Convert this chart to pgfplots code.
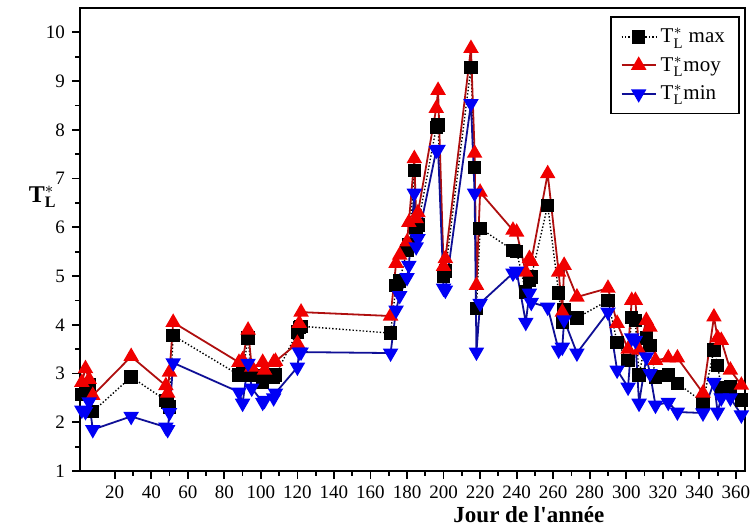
\documentclass[border=0pt]{standalone}
\usepackage{pgfplots}
\usepackage{pgfplotstable}
\pgfplotsset{compat=1.18}
\usepackage{fontspec}
\setmainfont{Liberation Serif}[Ligatures=TeXOff]
\definecolor{redfill}{RGB}{240,0,0}
\definecolor{redline}{RGB}{175,15,15}
\definecolor{bluefill}{RGB}{0,0,245}
\definecolor{blueline}{RGB}{15,15,150}
\pgfplotstableread{
day max moy min
2 2.57 2.82 2.25
4 2.60 3.10 2.22
6 2.78 2.88 2.42
8 2.22 2.55 1.85
29 2.93 3.35 2.12
48 2.45 2.75 1.90
49 2.40 2.60 1.85
50 2.31 3.03 2.20
52 3.78 4.05 3.22
88 2.97 3.23 2.62
90 3.00 3.28 2.39
93 3.73 3.89 3.21
95 2.97 3.13 2.70
101 2.82 3.23 2.41
102 2.95 3.07 2.45
107 2.93 3.23 2.50
108 2.97 3.25 2.60
120 3.85 3.62 3.13
121 3.95 4.03 3.44
122 3.97 4.26 3.44
171 3.83 4.18 3.42
174 4.80 5.26 4.30
176 4.90 5.43 4.60
180 5.53 5.70 4.97
181 5.65 6.10 5.22
184 7.17 7.41 6.70
185 6.00 6.18 5.60
186 6.05 6.30 5.77
196 8.05 8.44 7.58
197 8.10 8.81 7.60
200 5.00 5.20 4.75
201 5.10 5.36 4.71
215 9.28 9.67 8.54
217 7.23 7.52 6.70
218 4.34 4.81 3.44
220 5.98 6.72 4.44
238 5.53 5.94 5.06
240 5.50 5.90 5.10
245 4.67 5.08 4.05
247 4.91 5.36 4.65
248 4.98 5.30 4.46
257 6.45 7.10 4.36
263 4.65 5.08 3.48
265 4.05 4.26 3.54
266 4.30 5.22 4.10
273 4.14 4.57 3.42
290 4.50 4.75 4.26
295 3.64 4.03 3.07
301 3.27 3.50 2.72
303 4.15 4.50 3.73
305 4.09 4.50 3.68
307 2.97 3.48 2.39
311 3.73 4.09 3.34
313 3.58 3.95 3.00
316 2.93 3.27 2.35
323 2.97 3.32 2.41
328 2.80 3.32 2.21
342 2.41 2.60 2.19
348 3.48 4.16 2.82
350 3.17 3.73 2.21
352 2.70 3.68 2.50
357 2.72 3.07 2.50
363 2.46 2.76 2.15
}\data
\begin{document}
\begin{tikzpicture}
\begin{axis}[
  scale only axis,
  width=332.5pt, height=231.5pt,
  xmin=1, xmax=365, ymin=1, ymax=10.5,
  xtick={20,40,...,360}, ytick={1,2,...,10},
  minor x tick num=1, minor y tick num=1,
  tick align=outside,
  xtick pos=bottom, ytick pos=left,
  major tick length=4pt, minor tick length=2.5pt,
  axis line style={line width=1.2pt},
  every tick/.style={black, line width=0.9pt},
  /pgf/number format/assume math mode=true,
  tick label style={font=\fontsize{9.5}{11}\selectfont},
  xlabel={\textbf{Jour de l'année}},
  xlabel style={font=\fontsize{11.5}{13}\selectfont, at={(axis description cs:0.675,-0.095)}, anchor=center},
  ylabel={$\mathbf{T}_{\mathbf{L}}^{*}$},
  ylabel style={font=\fontsize{12}{14}\selectfont, rotate=-90, at={(axis description cs:-0.056,0.592)}, anchor=center},
  legend style={at={(axis description cs:0.992,0.982)}, anchor=north east, draw=black, line width=0.8pt, font=\fontsize{10.5}{12.5}\selectfont, row sep=1.5pt, inner xsep=5pt, inner ysep=3.5pt},
  legend cell align=left,
  clip=false,
]
\addplot[black, densely dotted, line width=0.7pt, mark=square*, mark size=3pt, mark options={solid, fill=black}] table[x=day, y=max] {\data};
\addlegendentry{T$_{\mathrm{L}}^{*}$ max}
\addplot[redline, line width=0.9pt, mark=triangle*, mark size=3.6pt, mark options={solid, fill=redfill, draw=redfill}] table[x=day, y=moy] {\data};
\addlegendentry{T$_{\mathrm{L}}^{*}$moy}
\addplot[blueline, line width=0.9pt, mark=triangle*, mark size=3.6pt, mark options={solid, rotate=180, fill=bluefill, draw=bluefill}] table[x=day, y=min] {\data};
\addlegendentry{T$_{\mathrm{L}}^{*}$min}
\end{axis}
\pgfresetboundingbox
\path (-40pt,-29pt) rectangle (335.5pt,235.5pt);
\end{tikzpicture}
\end{document}
